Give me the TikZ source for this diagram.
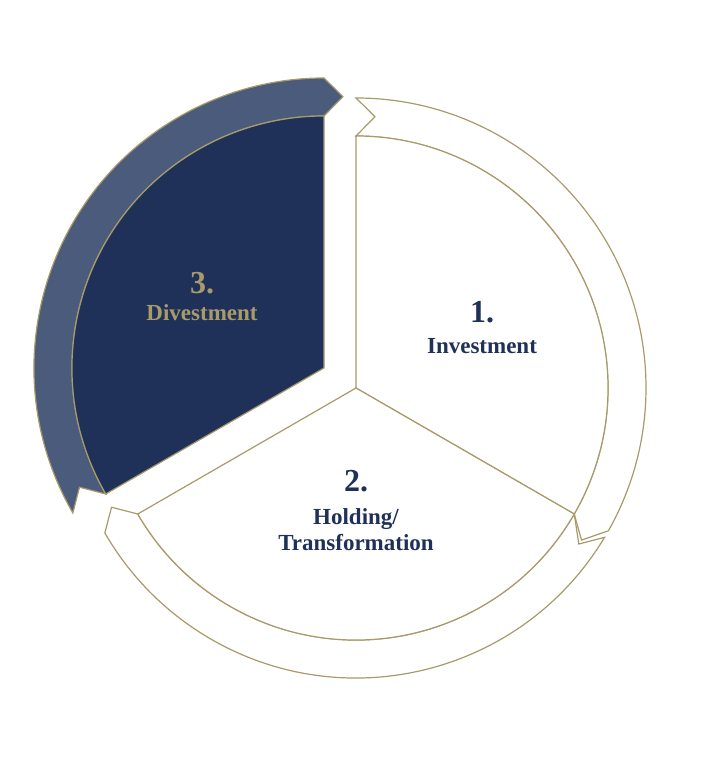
\documentclass[tikz,border=0pt]{standalone}
\usepackage{fontspec}
\setmainfont{Liberation Serif}
\definecolor{gold}{HTML}{A89A6A}
\definecolor{navy}{HTML}{1F3158}
\definecolor{slate}{HTML}{4B5B7C}
\begin{document}
\begin{tikzpicture}[x=1pt,y=1pt,
  outl/.style={draw=gold,line width=1.2pt,line join=miter},
  lbl/.style={font=\bfseries\fontsize{23}{26}\selectfont,align=center},
  num/.style={font=\bfseries\fontsize{32}{34}\selectfont}]
\useasboundingbox (0,0) rectangle (711,777);
\coordinate (C1) at (356,389);
\coordinate (C3) at (324,409);
% ring 1
\draw[outl,fill=white] ([shift={(C1)}]90:290) arc[start angle=90,end angle=-29.5,radius=290]
  -- ([shift={(C1)}]-34:272) -- ([shift={(C1)}]-30:252)
  arc[start angle=-30,end angle=90,radius=252] -- ([shift={(C1)}]86:272) -- cycle;
% ring 2
\draw[outl,fill=white] ([shift={(C1)}]-31:290) arc[start angle=-31,end angle=-150,radius=290]
  -- ([shift={(C1)}]-154:272) -- ([shift={(C1)}]-150:252)
  arc[start angle=-150,end angle=-30,radius=252] -- ([shift={(C1)}]-35:272) -- cycle;
% ring 3
\draw[outl,fill=slate] ([shift={(C3)}]210:290) arc[start angle=210,end angle=90,radius=290]
  -- ([shift={(C3)}]86:272) -- ([shift={(C3)}]90:252)
  arc[start angle=90,end angle=210,radius=252] -- ([shift={(C3)}]206:272) -- cycle;
% sectors
\draw[outl,fill=white] (C1) -- ([shift={(C1)}]90:252) arc[start angle=90,end angle=-30,radius=252] -- cycle;
\draw[outl,fill=white] (C1) -- ([shift={(C1)}]-30:252) arc[start angle=-30,end angle=-150,radius=252] -- cycle;
\draw[outl,fill=navy] (C3) -- ([shift={(C3)}]210:252) arc[start angle=210,end angle=90,radius=252] -- cycle;
% labels
\node[num,text=gold] (n3) at (202,494) {3.};
\node[lbl,text=gold] (t3) at (202,464) {Divestment};
\node[num,text=navy] (n1) at (482,465) {1.};
\node[lbl,text=navy] (t1) at (482,431) {Investment};
\node[num,text=navy] (n2) at (356,296) {2.};
\node[lbl,text=navy] (t2) at (356,247) {Holding/\\Transformation};
\end{tikzpicture}
\end{document}
